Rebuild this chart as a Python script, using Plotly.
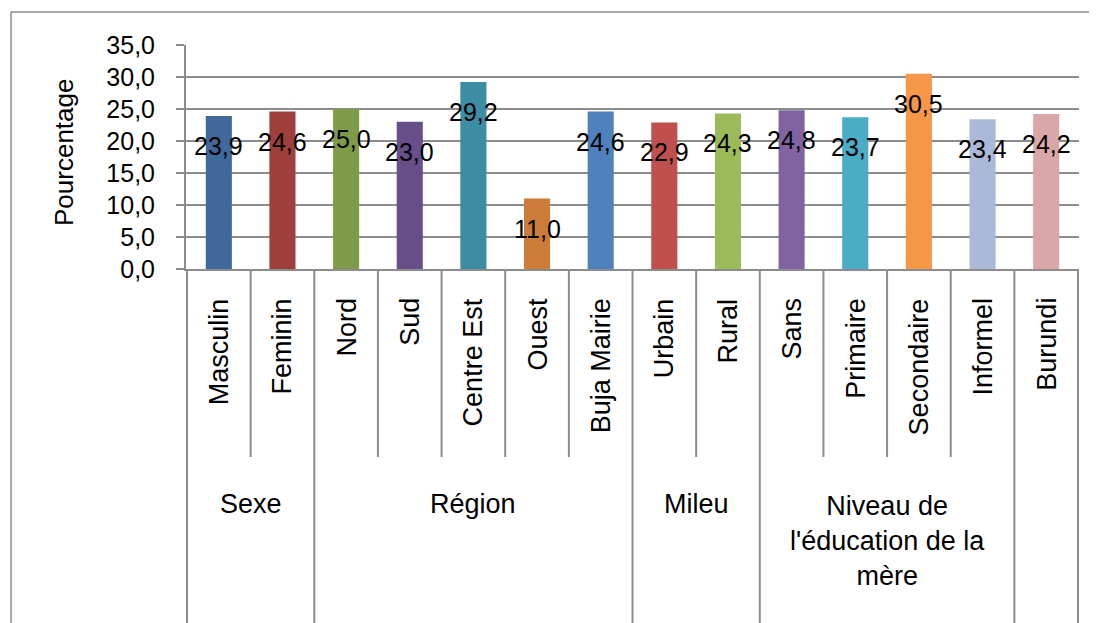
import plotly.graph_objects as go

# ---- data ----
categories = ["Masculin", "Feminin", "Nord", "Sud", "Centre Est", "Ouest", "Buja Mairie",
              "Urbain", "Rural", "Sans", "Primaire", "Secondaire", "Informel", "Burundi"]
values = [23.9, 24.6, 25.0, 23.0, 29.2, 11.0, 24.6, 22.9, 24.3, 24.8, 23.7, 30.5, 23.4, 24.2]
bar_colors = ["#41689A", "#9E3F3C", "#7F9A48", "#684F8A", "#3D8DA5", "#CC7B38", "#4F81BD",
              "#C0504D", "#9BBB59", "#8064A2", "#4BACC6", "#F79646", "#A9B9D7", "#D9A7A7"]
groups = ["Sexe", "Région", "Mileu", "Niveau de<br>l'éducation de la<br>mère", ""]
group_sizes = [2, 5, 2, 4, 1]
y_ticks = [0, 5, 10, 15, 20, 25, 30, 35]
y_title = "Pourcentage"

# ---- layout geometry (window pixels); page body has an 8px margin ----
OFF = 8
WIN_W, WIN_H = 1097, 623
W, H = WIN_W - OFF, WIN_H - OFF
L, R, T, B = 186, 1079, 45, 269
FONT = "Liberation Sans, Arial, sans-serif"
GRID = "#8C8C8C"


def py(p):
    return (B - p) / (B - T)


def pxx(p):
    return (p - L) / (R - L)


fig = go.Figure()
fig.add_trace(go.Bar(x=categories, y=values, marker=dict(color=bar_colors, line=dict(width=0)),
                     hoverinfo="x+y", showlegend=False))

annotations = []
# data labels
for c, v in zip(categories, values):
    annotations.append(dict(x=c, y=v, xref="x", yref="y", text=f"{v:.1f}".replace(".", ","),
                            showarrow=False, yshift=-30, yanchor="middle",
                            font=dict(size=25, color="black", family=FONT)))
# category labels (rotated)
for c in categories:
    annotations.append(dict(x=c, y=py(296), xref="x", yref="paper", text=c, textangle=-90,
                            showarrow=False, yanchor="top", xanchor="center",
                            font=dict(size=27, color="black", family=FONT)))
# group labels + separators
shapes = []
start = 0
bounds_long = [0]
for g, n in zip(groups, group_sizes):
    center = start + (n - 1) / 2
    nlines = g.count("<br>") + 1
    cy = 504 + (nlines - 1) * 37 / 2
    if g:
        annotations.append(dict(x=center, y=py(cy), xref="x", yref="paper", text=g,
                                showarrow=False, yanchor="middle", xanchor="center",
                                font=dict(size=27, color="black", family=FONT)))
    start += n
    bounds_long.append(start)

for i in range(len(categories) + 1):
    bottom = WIN_H + 5 if i in bounds_long else 457
    shapes.append(dict(type="line", xref="x", yref="paper", x0=i - 0.5, x1=i - 0.5,
                       y0=py(B), y1=py(bottom), line=dict(color=GRID, width=2), layer="above"))

# outer chart border
shapes.append(dict(type="line", xref="paper", yref="paper", x0=pxx(11), x1=pxx(11),
                   y0=py(WIN_H + 5), y1=py(12), line=dict(color=GRID, width=1.5)))
shapes.append(dict(type="line", xref="paper", yref="paper", x0=pxx(11), x1=pxx(WIN_W + 5),
                   y0=py(12), y1=py(12), line=dict(color=GRID, width=1.5)))

# y-axis title
annotations.append(dict(x=pxx(64), y=py(153), xref="paper", yref="paper", text=y_title,
                        textangle=-90, showarrow=False, xanchor="center", yanchor="middle",
                        font=dict(size=26, color="black", family=FONT)))

fig.update_layout(
    width=W, height=H,
    margin=dict(l=L - OFF, r=WIN_W - R, t=T - OFF, b=WIN_H - B, autoexpand=False),
    paper_bgcolor="white", plot_bgcolor="white",
    separators=", ",
    bargap=0.59,
    font=dict(family=FONT, color="black"),
    annotations=annotations,
    shapes=shapes,
    xaxis=dict(type="category", showticklabels=False, ticks="", showgrid=False,
               showline=True, linecolor=GRID, linewidth=2, zeroline=False, fixedrange=True),
    yaxis=dict(range=[0, 35], tickvals=y_ticks, tickformat=".1f", showgrid=True,
               gridcolor=GRID, gridwidth=2, zeroline=False, showline=True, linecolor=GRID,
               linewidth=2, ticks="outside", ticklen=8, tickwidth=2, tickcolor=GRID,
               ticklabelstandoff=16, tickfont=dict(size=25, color="black", family=FONT),
               fixedrange=True),
)

fig.write_html("out.html")
